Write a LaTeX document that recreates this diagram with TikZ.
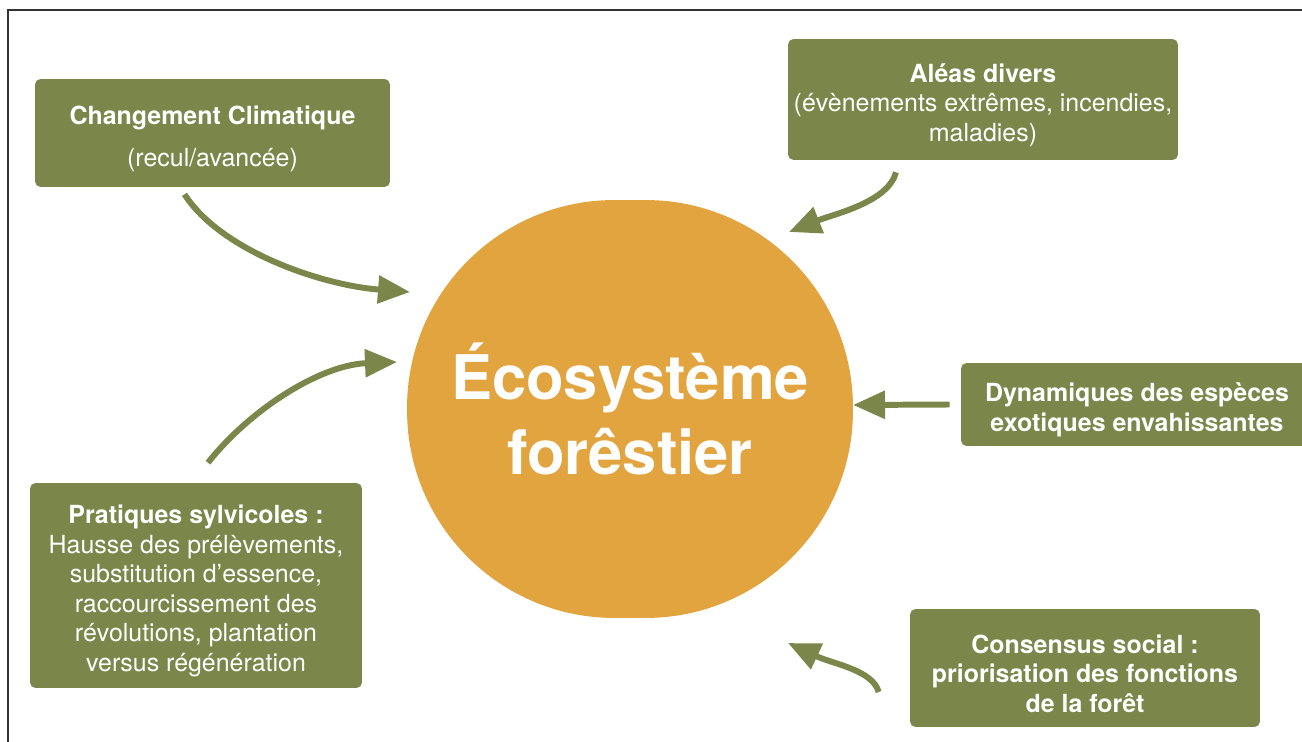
\documentclass[tikz,border=0pt]{standalone}
\usepackage{fontspec}
\setmainfont{TeX Gyre Heros}
\usetikzlibrary{arrows.meta}
\definecolor{vert}{RGB}{123,135,74}
\definecolor{ocre}{RGB}{226,164,63}
\newcommand{\hautligne}{\rule{0pt}{17pt}}

\begin{document}
\begin{tikzpicture}[x=0.02cm, y=-0.02cm,
    boite/.style={fill=vert, text=white, rounded corners=0.11cm, align=center, inner sep=0pt,
        font=\fontsize{14.2}{16.8}\selectfont},
    fleche/.style={vert, line width=3.4pt, -{Triangle[length=0.64cm, width=0.54cm]}}]
    \useasboundingbox (0, 0) rectangle (1302, 742);
    \draw[line width=0.7pt, black!80] (8, 742) -- (8, 10) -- (1302, 10);

    \node[fill=ocre, rounded corners=4.15cm, minimum width=8.92cm, minimum height=8.36cm,
        text=white, align=center, font=\fontsize{35}{43}\selectfont\bfseries] (eco) at (630, 409)
        {Écosystème\\forêstier};

    \node[boite, minimum width=7.1cm, minimum height=2.16cm] (cc) at (212.5, 133)
        {\hautligne\textbf{Changement Climatique}\\[7pt](recul/avancée)};
    \node[boite, minimum width=7.8cm, minimum height=2.42cm] (alea) at (983, 99.5)
        {\hautligne\textbf{Aléas divers}\\(évènements extrêmes, incendies,\\maladies)};
    \node[boite, minimum width=7.04cm, minimum height=1.66cm, font=\fontsize{14.2}{16.8}\selectfont\bfseries] (dyn) at (1137, 404.5)
        {\hautligne Dynamiques des espèces\\exotiques envahissantes};
    \node[boite, minimum width=7cm, minimum height=2.36cm, font=\fontsize{14.2}{16.8}\selectfont\bfseries] (cons) at (1085, 668)
        {\hautligne Consensus social :\\priorisation des fonctions\\de la forêt};
    \node[boite, minimum width=6.64cm, minimum height=4.1cm] (prat) at (196, 585.5)
        {\hautligne\textbf{Pratiques sylvicoles :}\\Hausse des prélèvements,\\substitution d’essence,\\raccourcissement des\\révolutions, plantation\\versus régénération};

    %\draw[fleche] (cc) -- (eco);
    \draw[fleche] ([shift={(-28, 7)}]cc.south) .. controls +(36, 56) and +(-90, -7) .. ([shift={(-220, -117)}]eco.center);
    \draw[fleche] ([shift={(-87, 12)}]alea.south) .. controls +(-8, 30) and +(45, -18) .. ([shift={(159, -177)}]eco.center);
    \draw[fleche] ([shift={(-11, 0)}]dyn.west) -- ([shift={(223, -4)}]eco.center);
    \draw[fleche] ([shift={(-31, 24)}]cons.west) .. controls +(-6, -22) and +(45, 21) .. ([shift={(158, 234)}]eco.center);
    \draw[fleche] ([shift={(12, -20)}]prat.north) .. controls +(42, -53) and +(-77, 3) .. ([shift={(-233, -47)}]eco.center);
\end{tikzpicture}
\end{document}
